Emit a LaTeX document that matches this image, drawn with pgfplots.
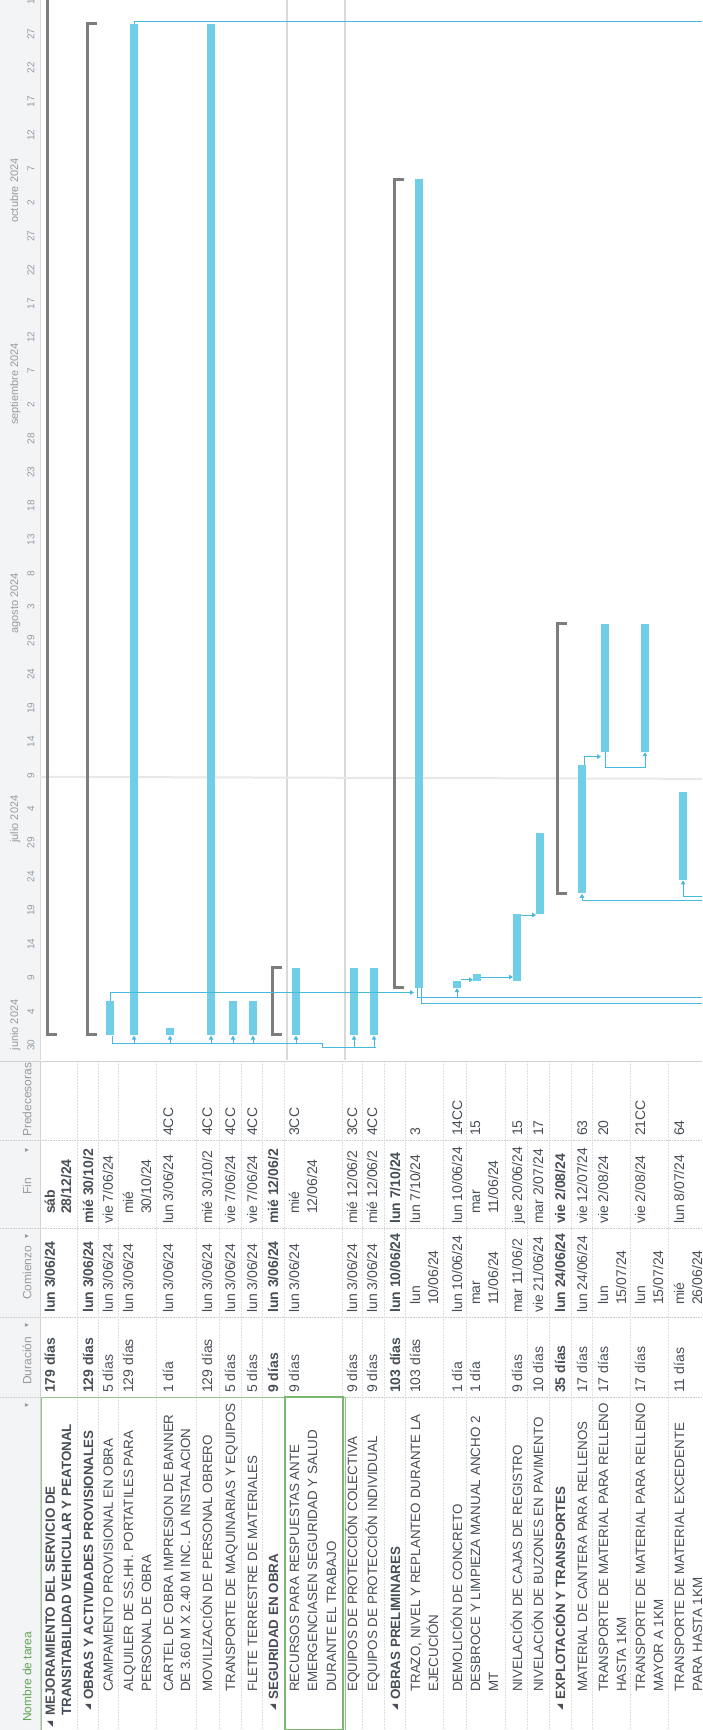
\documentclass[border=0pt]{standalone}
\usepackage{pgfplots}
\usepackage{pgfplotstable}
\pgfplotsset{compat=1.18}
\usepackage{fontspec}
\setmainfont{Liberation Sans}
\newfontfamily\dejavu{DejaVu Sans}
\usetikzlibrary{arrows.meta}
\definecolor{barc}{RGB}{112,206,230}
\definecolor{linkc}{RGB}{70,185,220}
\definecolor{sumc}{RGB}{125,125,125}
\definecolor{txt}{RGB}{72,78,86}
\definecolor{hdr}{RGB}{243,244,245}
\definecolor{hdrtxt}{RGB}{150,155,162}
\definecolor{selg}{RGB}{120,185,110}
\definecolor{grn}{RGB}{95,165,85}

% task bars: x position of the row, start day, end day (days after lun 3/06/24)
\pgfplotstableread{
x s e
110 0 5
134 0 150
170 0 1
211 0 150
233 0 5
253 0 5
296 0 10
354 0 10
374 0 10
419 7 127
457 7 8
477 8 9
517 8 18
540 18 30
582 21 40
605 42 61
645 42 61
683 23 36
}\bars

\begin{document}
\begin{tikzpicture}[
  tx/.style={rotate=90, anchor=west, inner sep=0pt, text height=10pt, text depth=0pt, font=\fontsize{14}{16}\selectfont, text=txt},
  bx/.style={tx, font=\fontsize{14}{16}\selectfont\bfseries},
  nx/.style={tx, font=\fontsize{13.4}{16}\selectfont},
  nb/.style={tx, font=\fontsize{13.4}{16}\selectfont\bfseries},
  mk/.style={rotate=90, anchor=center, inner sep=0pt, font=\dejavu\fontsize{8}{8}\selectfont, text=txt},
  hd/.style={rotate=90, anchor=west, inner sep=0pt, text height=9pt, text depth=0pt, font=\fontsize{12}{14}\selectfont, text=hdrtxt},
  dl/.style={rotate=90, anchor=center, inner sep=0pt, font=\fontsize{10}{12}\selectfont, text=hdrtxt},
  ml/.style={rotate=90, anchor=west, inner sep=0pt, text height=8pt, text depth=0pt, font=\fontsize{11}{13}\selectfont, text=hdrtxt},
  sumst/.style={draw=sumc, line width=3pt},
  link/.style={draw=linkc, line width=0.9pt},
  arr/.style={link, -{Triangle[length=4pt,width=4.5pt]}},
]
% ---------------- Gantt part (y = days after 3 June 2024) ----------------
\begin{axis}[name=gantt, at={(0,670pt)}, anchor=south west,
  width=702pt, height=1060pt, scale only axis,
  xmin=0, xmax=702, ymin=-3.709, ymax=153.56,
  axis lines=none, clip=true]
\fill[hdr] (axis cs:0,-3.709) rectangle (axis cs:40,153.56);
\draw[gray!30, line width=0.6pt] (axis cs:40,-3.709) -- (axis cs:40,153.56);
% month labels
\node[ml] at (axis cs:14,-2.3) {junio 2024};
\node[ml] at (axis cs:14,28.5) {julio 2024};
\node[ml] at (axis cs:14,59.5) {agosto 2024};
\node[ml] at (axis cs:14,90.5) {septiembre 2024};
\node[ml] at (axis cs:14,120.5) {octubre 2024};
% day labels (centred in each 5-day span)
\node[dl] at (axis cs:31,-1.5) {30};
\node[dl] at (axis cs:31,3.5) {4};
\node[dl] at (axis cs:31,8.5) {9};
\node[dl] at (axis cs:31,13.5) {14};
\node[dl] at (axis cs:31,18.5) {19};
\node[dl] at (axis cs:31,23.5) {24};
\node[dl] at (axis cs:31,28.5) {29};
\node[dl] at (axis cs:31,33.5) {4};
\node[dl] at (axis cs:31,38.5) {9};
\node[dl] at (axis cs:31,43.5) {14};
\node[dl] at (axis cs:31,48.5) {19};
\node[dl] at (axis cs:31,53.5) {24};
\node[dl] at (axis cs:31,58.5) {29};
\node[dl] at (axis cs:31,63.5) {3};
\node[dl] at (axis cs:31,68.5) {8};
\node[dl] at (axis cs:31,73.5) {13};
\node[dl] at (axis cs:31,78.5) {18};
\node[dl] at (axis cs:31,83.5) {23};
\node[dl] at (axis cs:31,88.5) {28};
\node[dl] at (axis cs:31,93.5) {2};
\node[dl] at (axis cs:31,98.5) {7};
\node[dl] at (axis cs:31,103.5) {12};
\node[dl] at (axis cs:31,108.5) {17};
\node[dl] at (axis cs:31,113.5) {22};
\node[dl] at (axis cs:31,118.5) {27};
\node[dl] at (axis cs:31,123.5) {2};
\node[dl] at (axis cs:31,128.5) {7};
\node[dl] at (axis cs:31,133.5) {12};
\node[dl] at (axis cs:31,138.5) {17};
\node[dl] at (axis cs:31,143.5) {22};
\node[dl] at (axis cs:31,148.5) {27};
\node[dl] at (axis cs:31,153.3) {1};
% selected-row guide lines and status line
\draw[gray!30, line width=1.2pt] (axis cs:287,-3.709) -- (axis cs:287,153.56);
\draw[gray!30, line width=1.2pt] (axis cs:345,-3.709) -- (axis cs:345,153.56);
\draw[gray!18, line width=2pt] (axis cs:40,38.3) -- (axis cs:702,38.0);
% summary bars
\addplot[sumst] coordinates {(57,0) (47,0) (47,209)};
\addplot[sumst] coordinates {(97,0) (87,0) (87,150) (97,150)};
\addplot[sumst] coordinates {(282,0) (272,0) (272,10) (282,10)};
\addplot[sumst] coordinates {(404,7) (394,7) (394,127) (404,127)};
\addplot[sumst] coordinates {(567,21) (557,21) (557,61) (567,61)};
% task bars
\addplot[draw=none, mark=none,
  error bars/.cd, y dir=plus, y explicit, error mark=none,
  error bar style={line width=8.5pt, draw=barc}]
  table[x=x, y=s, y error expr=\thisrow{e}-\thisrow{s}] {\bars};
% links
\addplot[link] coordinates {(112,-0.2) (112,-1.2) (322,-1.2) (322,-1.9) (376,-1.9)};
\addplot[arr] coordinates {(134,-1.2) (134,-0.1)};
\addplot[arr] coordinates {(170,-1.2) (170,-0.1)};
\addplot[arr] coordinates {(211,-1.2) (211,-0.1)};
\addplot[arr] coordinates {(233,-1.2) (233,-0.1)};
\addplot[arr] coordinates {(253,-1.2) (253,-0.1)};
\addplot[arr] coordinates {(296,-1.2) (296,-0.1)};
\addplot[arr] coordinates {(354,-1.9) (354,-0.1)};
\addplot[arr] coordinates {(374,-1.9) (374,-0.1)};
\addplot[arr] coordinates {(110,5) (110,6.3) (414,6.3)};
\addplot[link] coordinates {(417,7) (417,5.6) (702,5.6)};
\addplot[link] coordinates {(421,7) (421,4.7) (702,4.7)};
\addplot[arr] coordinates {(457,5.6) (457,6.95)};
\addplot[arr] coordinates {(461,8.2) (473,8.2)};
\addplot[arr] coordinates {(481,8.6) (513,8.6)};
\addplot[arr] coordinates {(521,17.8) (536,17.8)};
\addplot[arr] coordinates {(584,40) (584,41.3) (601,41.3)};
\addplot[arr] coordinates {(605,42) (605,39.7) (645,39.7) (645,41.95)};
\addplot[arr] coordinates {(702,19.9) (582,19.9) (582,20.95)};
\addplot[arr] coordinates {(702,20.6) (683,20.6) (683,22.95)};
\addplot[link] coordinates {(134,150) (134,150.4) (702,150.4)};
\end{axis}

% ---------------- Table part (y in pixels, downward) ----------------
\begin{axis}[name=tab, at={(0,0)}, anchor=south west,
  width=702pt, height=670pt, scale only axis,
  xmin=0, xmax=702, ymin=1060, ymax=1730, y dir=reverse,
  axis lines=none, clip=false]
\fill[hdr] (axis cs:0,1060) rectangle (axis cs:40,1730);
\draw[gray!35, line width=0.8pt] (axis cs:0,1061) -- (axis cs:702,1061);
\foreach \yy in {1140,1228,1317,1397}{
  \edef\temp{\noexpand\draw[gray!40, densely dotted, line width=0.6pt] (axis cs:0,\yy) -- (axis cs:702,\yy);}\temp
}
\foreach \xx in {77,98,118,156,196,219,241,262,284,342,362,384,405,443,466,505,527,549,571,592,630,668}{
  \edef\temp{\noexpand\draw[gray!25, densely dotted, line width=0.5pt] (axis cs:\xx,1062) -- (axis cs:\xx,1730);}\temp
}
\draw[gray!35, line width=0.6pt] (axis cs:40,1061) -- (axis cs:40,1730);
% selection highlight
\draw[selg!80, line width=0.9pt] (axis cs:41,1397) rectangle (axis cs:345,1730);
\draw[selg, line width=1.4pt] (axis cs:285,1397) rectangle (axis cs:343,1730);
% header
\node[hd, text=grn] at (axis cs:27,1722) {Nombre de tarea};
\node[mk, text=hdrtxt] at (axis cs:27,1405) {▾};
\node[hd] at (axis cs:27,1385) {Duración};
\node[mk, text=hdrtxt] at (axis cs:27,1325) {▾};
\node[hd] at (axis cs:27,1300) {Comienzo};
\node[mk, text=hdrtxt] at (axis cs:27,1236) {▾};
\node[hd] at (axis cs:27,1195) {Fin};
\node[mk, text=hdrtxt] at (axis cs:27,1150) {▾};
\node[hd] at (axis cs:27,1137) {Predecesoras};
% ---- task names ----
\node[mk] at (axis cs:50,1724) {◢};
\node[nb] at (axis cs:50,1716) {MEJORAMIENTO DEL SERVICIO DE};
\node[nb] at (axis cs:66,1716) {TRANSITABILIDAD VEHICULAR Y PEATONAL};
\node[mk] at (axis cs:88,1707) {◢};
\node[nb] at (axis cs:88,1700) {OBRAS Y ACTIVIDADES PROVISIONALES};
\node[nx] at (axis cs:108,1692) {CAMPAMENTO PROVISIONAL EN OBRA};
\node[nx] at (axis cs:128,1692) {ALQUILER DE SS.HH. PORTATILES PARA};
\node[nx] at (axis cs:146,1692) {PERSONAL DE OBRA};
\node[nx] at (axis cs:168,1692) {CARTEL DE OBRA IMPRESION DE BANNER};
\node[nx] at (axis cs:185,1692) {DE 3.60 M X 2.40 M INC. LA INSTALACION};
\node[nx] at (axis cs:207,1692) {MOVILIZACIÓN DE PERSONAL OBRERO};
\node[nx] at (axis cs:230,1692) {TRANSPORTE DE MAQUINARIAS Y EQUIPOS};
\node[nx] at (axis cs:252,1692) {FLETE TERRESTRE DE MATERIALES};
\node[mk] at (axis cs:273,1707) {◢};
\node[nb] at (axis cs:273,1700) {SEGURIDAD EN OBRA};
\node[nx] at (axis cs:294,1692) {RECURSOS PARA RESPUESTAS ANTE};
\node[nx] at (axis cs:312,1692) {EMERGENCIASEN SEGURIDAD Y SALUD};
\node[nx] at (axis cs:331,1692) {DURANTE EL TRABAJO};
\node[nx] at (axis cs:352,1692) {EQUIPOS DE PROTECCIÓN COLECTIVA};
\node[nx] at (axis cs:372,1692) {EQUIPOS DE PROTECCIÓN INDIVIDUAL};
\node[mk] at (axis cs:395,1707) {◢};
\node[nb] at (axis cs:395,1700) {OBRAS PRELIMINARES};
\node[nx] at (axis cs:415,1692) {TRAZO, NIVEL Y REPLANTEO DURANTE LA};
\node[nx] at (axis cs:433,1692) {EJECUCIÓN};
\node[nx] at (axis cs:457,1692) {DEMOLICIÓN DE CONCRETO};
\node[nx] at (axis cs:475,1692) {DESBROCE Y LIMPIEZA MANUAL ANCHO 2};
\node[nx] at (axis cs:493,1692) {MT};
\node[nx] at (axis cs:517,1692) {NIVELACIÓN DE CAJAS DE REGISTRO};
\node[nx] at (axis cs:538,1692) {NIVELACIÓN DE BUZONES EN PAVIMENTO};
\node[mk] at (axis cs:560,1707) {◢};
\node[nb] at (axis cs:560,1700) {EXPLOTACIÓN Y TRANSPORTES};
\node[nx] at (axis cs:582,1692) {MATERIAL DE CANTERA PARA RELLENOS};
\node[nx] at (axis cs:603,1692) {TRANSPORTE DE MATERIAL PARA RELLENO};
\node[nx] at (axis cs:621,1692) {HASTA 1KM};
\node[nx] at (axis cs:640,1692) {TRANSPORTE DE MATERIAL PARA RELLENO};
\node[nx] at (axis cs:658,1692) {MAYOR A 1KM};
\node[nx] at (axis cs:679,1692) {TRANSPORTE DE MATERIAL EXCEDENTE};
\node[nx] at (axis cs:697,1692) {PARA HASTA 1KM};
% ---- duración ----
\node[bx] at (axis cs:50,1393) {179 días};
\node[bx] at (axis cs:88,1393) {129 días};
\node[tx] at (axis cs:108,1393) {5 días};
\node[tx] at (axis cs:128,1393) {129 días};
\node[tx] at (axis cs:168,1393) {1 día};
\node[tx] at (axis cs:207,1393) {129 días};
\node[tx] at (axis cs:230,1393) {5 días};
\node[tx] at (axis cs:252,1393) {5 días};
\node[bx] at (axis cs:273,1393) {9 días};
\node[tx] at (axis cs:294,1393) {9 días};
\node[tx] at (axis cs:352,1393) {9 días};
\node[tx] at (axis cs:372,1393) {9 días};
\node[bx] at (axis cs:395,1393) {103 días};
\node[tx] at (axis cs:415,1393) {103 días};
\node[tx] at (axis cs:457,1393) {1 día};
\node[tx] at (axis cs:475,1393) {1 día};
\node[tx] at (axis cs:517,1393) {9 días};
\node[tx] at (axis cs:538,1393) {10 días};
\node[bx] at (axis cs:560,1393) {35 días};
\node[tx] at (axis cs:582,1393) {17 días};
\node[tx] at (axis cs:603,1393) {17 días};
\node[tx] at (axis cs:640,1393) {17 días};
\node[tx] at (axis cs:679,1393) {11 días};
% ---- comienzo ----
\node[bx] at (axis cs:50,1313) {lun 3/06/24};
\node[bx] at (axis cs:88,1313) {lun 3/06/24};
\node[tx] at (axis cs:108,1313) {lun 3/06/24};
\node[tx] at (axis cs:128,1313) {lun 3/06/24};
\node[tx] at (axis cs:168,1313) {lun 3/06/24};
\node[tx] at (axis cs:207,1313) {lun 3/06/24};
\node[tx] at (axis cs:230,1313) {lun 3/06/24};
\node[tx] at (axis cs:252,1313) {lun 3/06/24};
\node[bx] at (axis cs:273,1313) {lun 3/06/24};
\node[tx] at (axis cs:294,1313) {lun 3/06/24};
\node[tx] at (axis cs:352,1313) {lun 3/06/24};
\node[tx] at (axis cs:372,1313) {lun 3/06/24};
\node[bx] at (axis cs:395,1313) {lun 10/06/24};
\node[tx] at (axis cs:415,1305) {lun};
\node[tx] at (axis cs:433,1305) {10/06/24};
\node[tx] at (axis cs:457,1313) {lun 10/06/24};
\node[tx] at (axis cs:475,1305) {mar};
\node[tx] at (axis cs:493,1305) {11/06/24};
\node[tx] at (axis cs:517,1313) {mar 11/06/2};
\node[tx] at (axis cs:538,1313) {vie 21/06/24};
\node[bx] at (axis cs:560,1313) {lun 24/06/24};
\node[tx] at (axis cs:582,1313) {lun 24/06/24};
\node[tx] at (axis cs:603,1305) {lun};
\node[tx] at (axis cs:621,1305) {15/07/24};
\node[tx] at (axis cs:640,1305) {lun};
\node[tx] at (axis cs:658,1305) {15/07/24};
\node[tx] at (axis cs:679,1305) {mié};
\node[tx] at (axis cs:697,1305) {26/06/24};
% ---- fin ----
\node[bx] at (axis cs:50,1214) {sáb};
\node[bx] at (axis cs:66,1214) {28/12/24};
\node[bx] at (axis cs:88,1224) {mié 30/10/2};
\node[tx] at (axis cs:108,1224) {vie 7/06/24};
\node[tx] at (axis cs:128,1214) {mié};
\node[tx] at (axis cs:146,1214) {30/10/24};
\node[tx] at (axis cs:168,1224) {lun 3/06/24};
\node[tx] at (axis cs:207,1224) {mié 30/10/2};
\node[tx] at (axis cs:230,1224) {vie 7/06/24};
\node[tx] at (axis cs:252,1224) {vie 7/06/24};
\node[bx] at (axis cs:273,1224) {mié 12/06/2};
\node[tx] at (axis cs:294,1214) {mié};
\node[tx] at (axis cs:312,1214) {12/06/24};
\node[tx] at (axis cs:352,1224) {mié 12/06/2};
\node[tx] at (axis cs:372,1224) {mié 12/06/2};
\node[bx] at (axis cs:395,1224) {lun 7/10/24};
\node[tx] at (axis cs:415,1224) {lun 7/10/24};
\node[tx] at (axis cs:457,1224) {lun 10/06/24};
\node[tx] at (axis cs:475,1214) {mar};
\node[tx] at (axis cs:493,1214) {11/06/24};
\node[tx] at (axis cs:517,1224) {jue 20/06/24};
\node[tx] at (axis cs:538,1224) {mar 2/07/24};
\node[bx] at (axis cs:560,1224) {vie 2/08/24};
\node[tx] at (axis cs:582,1224) {vie 12/07/24};
\node[tx] at (axis cs:603,1224) {vie 2/08/24};
\node[tx] at (axis cs:640,1224) {vie 2/08/24};
\node[tx] at (axis cs:679,1224) {lun 8/07/24};
% ---- predecesoras ----
\node[tx] at (axis cs:168,1136) {4CC};
\node[tx] at (axis cs:207,1136) {4CC};
\node[tx] at (axis cs:230,1136) {4CC};
\node[tx] at (axis cs:252,1136) {4CC};
\node[tx] at (axis cs:294,1136) {3CC};
\node[tx] at (axis cs:352,1136) {3CC};
\node[tx] at (axis cs:372,1136) {4CC};
\node[tx] at (axis cs:415,1136) {3};
\node[tx] at (axis cs:457,1136) {14CC};
\node[tx] at (axis cs:475,1136) {15};
\node[tx] at (axis cs:517,1136) {15};
\node[tx] at (axis cs:538,1136) {17};
\node[tx] at (axis cs:582,1136) {63};
\node[tx] at (axis cs:603,1136) {20};
\node[tx] at (axis cs:640,1136) {21CC};
\node[tx] at (axis cs:679,1136) {64};
\end{axis}
\pgfresetboundingbox
\useasboundingbox (0,0) rectangle (702pt,1730pt);
\end{tikzpicture}
\end{document}
